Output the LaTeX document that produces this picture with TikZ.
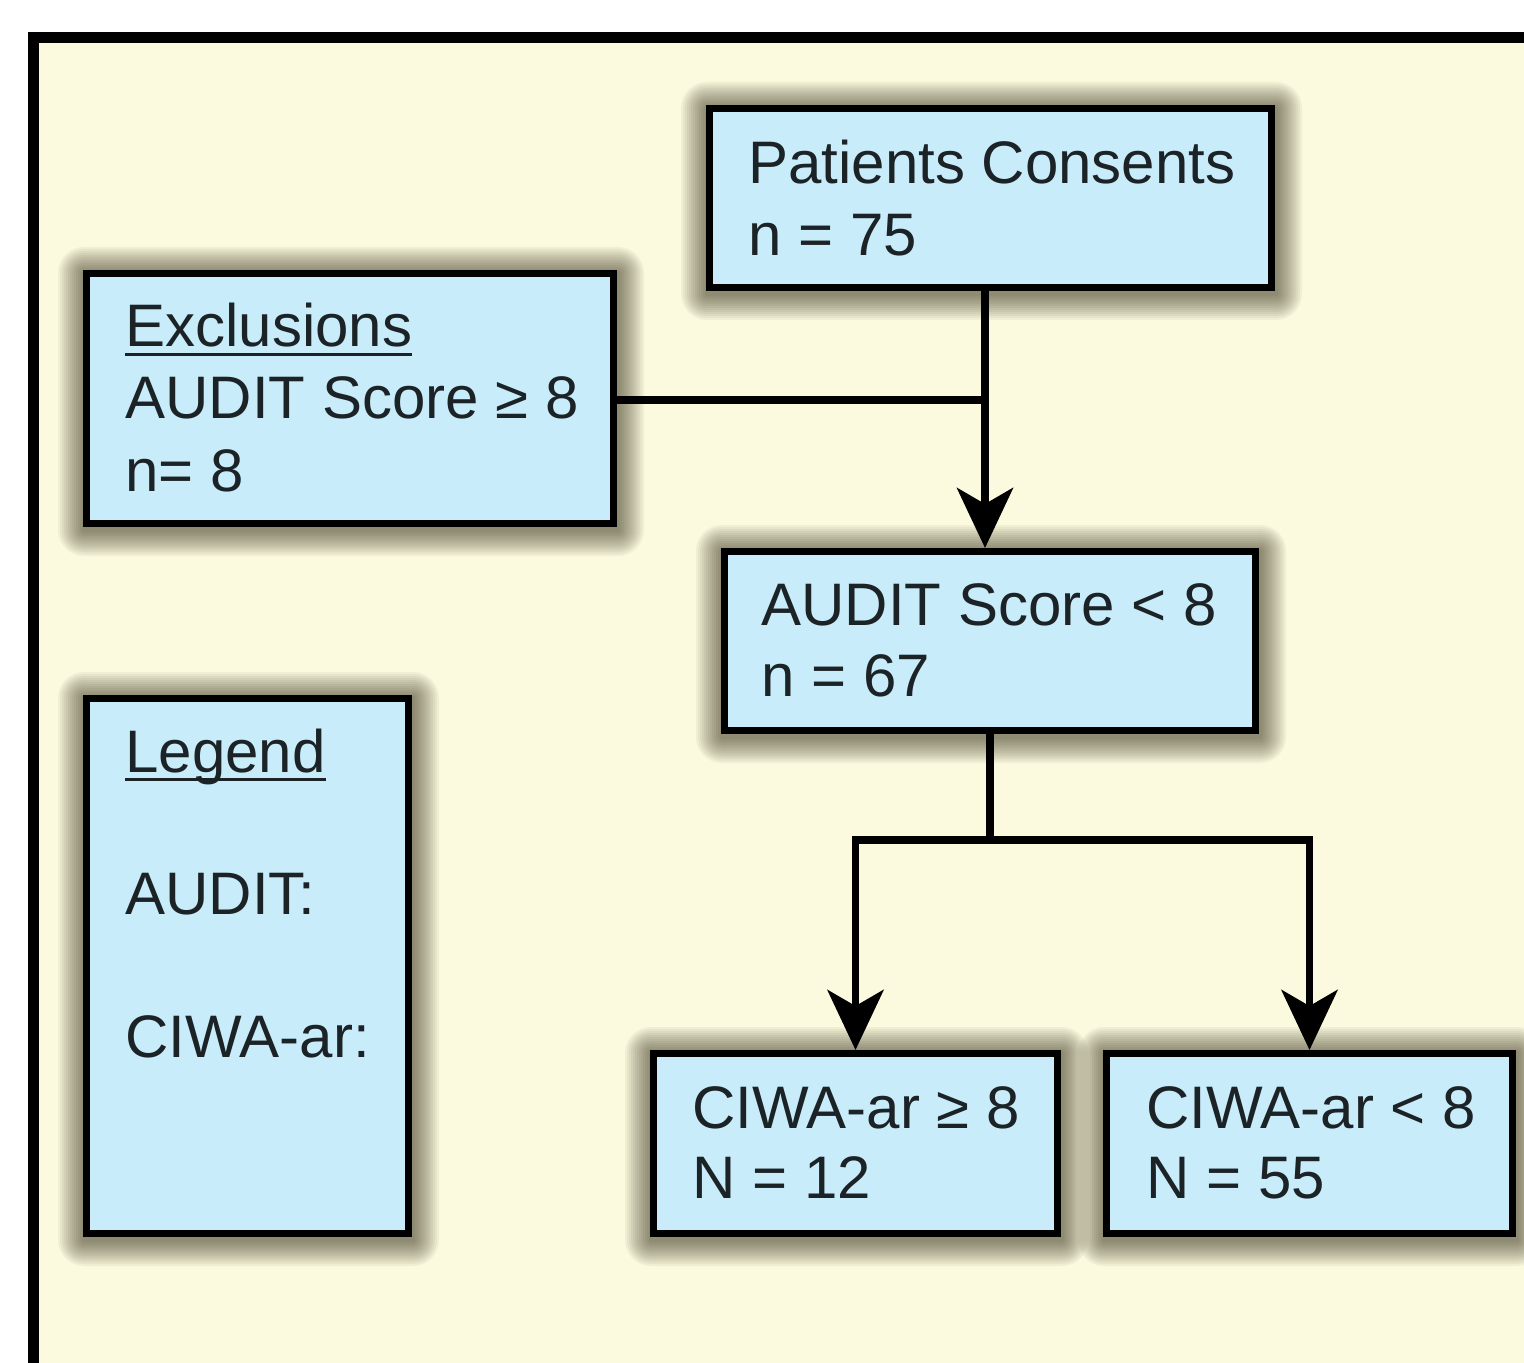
\documentclass[tikz,border=0pt]{standalone}
\usepackage{fontspec}
\setmainfont{Liberation Sans}
\usetikzlibrary{arrows.meta,backgrounds}

\definecolor{panelbg}{HTML}{FCFADE}
\definecolor{boxfill}{HTML}{C8ECFA}
\definecolor{inkc}{HTML}{1C2326}
\definecolor{shadowc}{HTML}{2A2410}

% underline sitting just below the baseline
\newcommand\ulword[1]{\setbox0\hbox{#1}\rlap{\rule[-4.6pt]{\wd0}{1.7pt}}#1}

% soft halo behind a box: stacked translucent rounded rectangles
\newcommand\boxhalo[1]{%
  \foreach \r in {1,2,...,13}{%
    \fill[shadowc, fill opacity=0.05, rounded corners=\r*1pt]
      ([xshift=-\r*1pt+0.5pt, yshift=\r*1pt-1.5pt]#1.north west) rectangle
      ([xshift=\r*1pt+0.5pt, yshift=-\r*1pt-1.5pt]#1.south east);
  }%
}

\tikzset{
  flowbox/.style={draw=black, line width=3.5pt, fill=boxfill, rectangle,
    inner sep=0pt},
  label/.style={anchor=base west, inner sep=0pt, text=inkc,
    font=\fontsize{30pt}{36pt}\selectfont},
  link/.style={draw=black, line width=3.8pt, line join=miter},
  arrowlink/.style={link, -{Stealth[length=30pt, width=28pt, inset=8pt]}},
}

\begin{document}
\begin{tikzpicture}[x=0.5pt, y=-0.5pt]
  \useasboundingbox (0,0) rectangle (1524,1363);

  % boxes
  \node[flowbox, minimum width=281pt, minimum height=89.5pt] (pat) at (990.5,198) {};
  \node[flowbox, minimum width=263.5pt, minimum height=125pt] (exc) at (350,398.5) {};
  \node[flowbox, minimum width=265.5pt, minimum height=89.5pt] (aud) at (990,641) {};
  \node[flowbox, minimum width=161pt, minimum height=267.5pt] (leg) at (247.5,966) {};
  \node[flowbox, minimum width=202pt, minimum height=90pt] (cge) at (855.5,1143.5) {};
  \node[flowbox, minimum width=203pt, minimum height=90pt] (clt) at (1309.5,1143.5) {};

  \begin{scope}[on background layer]
    \fill[white] (0,0) rectangle (1524,1363);
    \clip (0,0) rectangle (1524,1363);
    % outer panel, running off the right and bottom edges
    \draw[line width=5.5pt, fill=panelbg] (33.5,37.5) rectangle (1620,1460);
    \boxhalo{pat}
    \boxhalo{exc}
    \boxhalo{aud}
    \boxhalo{leg}
    \boxhalo{cge}
    \boxhalo{clt}
  \end{scope}

  % box texts
  \node[label] (pat1) at (748,184) {Patients Consents};
  \node[label] (pat2) at (748,256) {n = 75};

  \node[label] (exc1) at (125,347) {\ulword{Exclusions}};
  \node[label] (exc2) at (125,419) {AUDIT Score ≥ 8};
  \node[label] (exc3) at (125,491) {n= 8};

  \node[label] (aud1) at (761,625) {AUDIT Score < 8};
  \node[label] (aud2) at (761,696) {n = 67};

  \node[label] (leg1) at (125,772) {\ulword{Legend}};
  \node[label] (leg2) at (125,914) {AUDIT:};
  \node[label] (leg3) at (125,1057) {CIWA-ar:};

  \node[label] (cge1) at (692,1128) {CIWA-ar ≥ 8};
  \node[label] (cge2) at (692,1198) {N = 12};

  \node[label] (clt1) at (1146,1128) {CIWA-ar < 8};
  \node[label] (clt2) at (1146,1198) {N = 55};

  % connectors
  \coordinate (jexc) at (985,400);
  \coordinate (jsplit) at (990,840);

  \draw[link] (exc.east |- jexc) -- (jexc);
  \draw[arrowlink] (pat.south -| jexc) -- (aud.north -| jexc);

  \draw[link] (aud.south -| jsplit) -- (jsplit);
  \draw[arrowlink] (jsplit) -| (cge.north);
  \draw[arrowlink] (jsplit) -| (clt.north);
\end{tikzpicture}
\end{document}
